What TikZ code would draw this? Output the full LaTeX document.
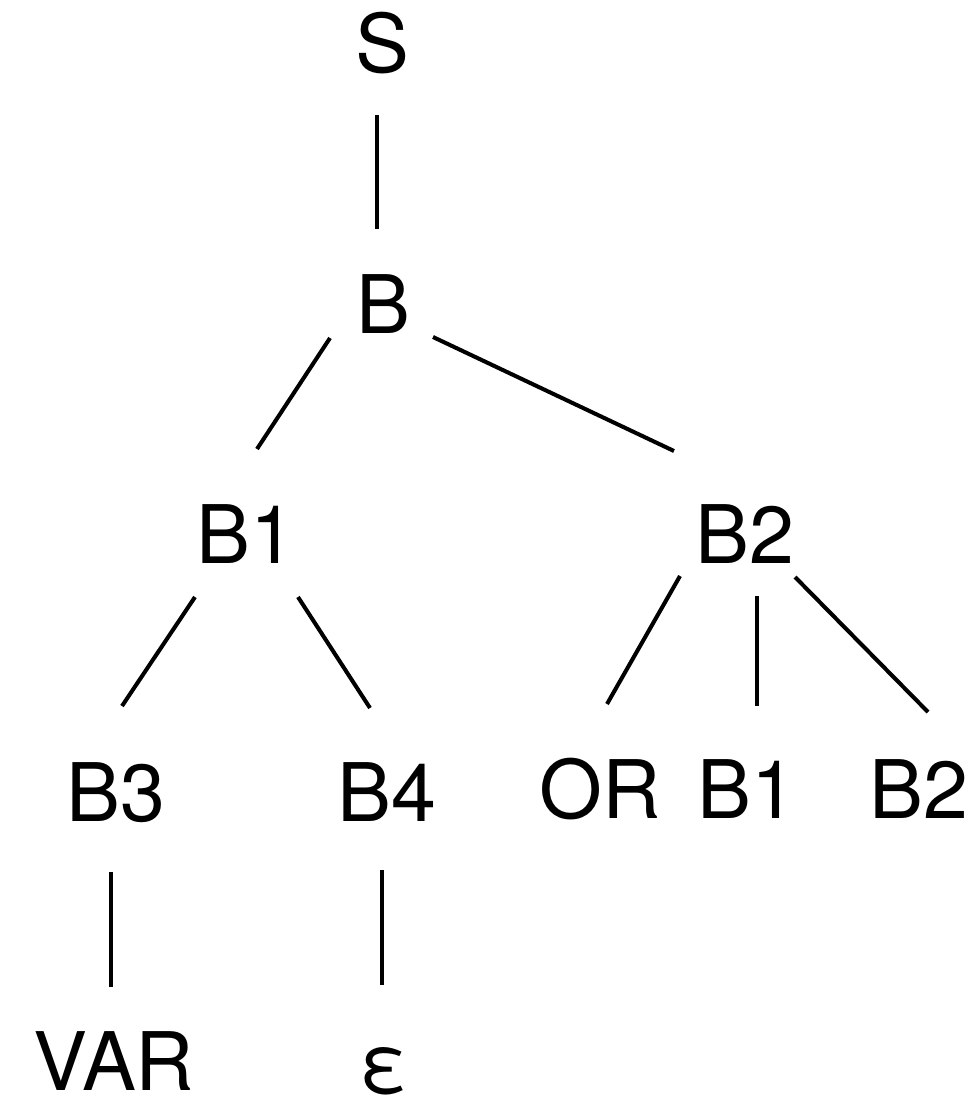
\documentclass[tikz,border=0pt]{standalone}
\usepackage{fontspec}
\setmainfont{TeX Gyre Heros}
\usetikzlibrary{calc}

\begin{document}
\begin{tikzpicture}[x=0.02cm, y=-0.02cm,
  lbl/.style={anchor=base, inner sep=0pt, font=\fontsize{46}{50}\selectfont},
  edge/.style={line width=2.3pt}]
\useasboundingbox (0,0) rectangle (978,1099);

% Root
\node[lbl] (S) at (382,72) {S};
\node[lbl] (B) at (383,333) {B};
\draw[edge] ($(S.base)+(-5,43)$) -- ($(B.base)+(-6,-104)$);

% Second level
\node[lbl] (B1) at (246,563) {B1};
\node[lbl] (B2) at (745,563) {B2};
\draw[edge] ($(B.base)+(-53,5)$) -- ($(B1.base)+(11,-114)$);
\draw[edge] ($(B.base)+(50,4)$) -- ($(B2.base)+(-71,-112)$);

% Under B1
\node[lbl] (B3) at (116,821) {B3};
\node[lbl] (B4) at (387,821) {B4};
\draw[edge] ($(B1.base)+(-51,34)$) -- ($(B3.base)+(6,-115)$);
\draw[edge] ($(B1.base)+(52,34)$) -- ($(B4.base)+(-17,-113)$);

% Under B2
\node[lbl] (OR) at (600,818) {OR};
\node[lbl] (B1b) at (747,818) {B1};
\node[lbl] (B2b) at (919,818) {B2};
\draw[edge] ($(B2.base)+(-65,13)$) -- ($(OR.base)+(7,-114)$);
\draw[edge] ($(B2.base)+(12,33)$) -- ($(B1b.base)+(10,-112)$);
\draw[edge] ($(B2.base)+(50,14)$) -- ($(B2b.base)+(9,-106)$);

% Leaves
\node[lbl] (VAR) at (114,1090) {VAR};
\node[lbl] (eps) at (384,1092) {ε};
\draw[edge] ($(B3.base)+(-5,51)$) -- ($(VAR.base)+(-3,-103)$);
\draw[edge] ($(B4.base)+(-5,49)$) -- ($(eps.base)+(-2,-107)$);
\end{tikzpicture}
\end{document}
